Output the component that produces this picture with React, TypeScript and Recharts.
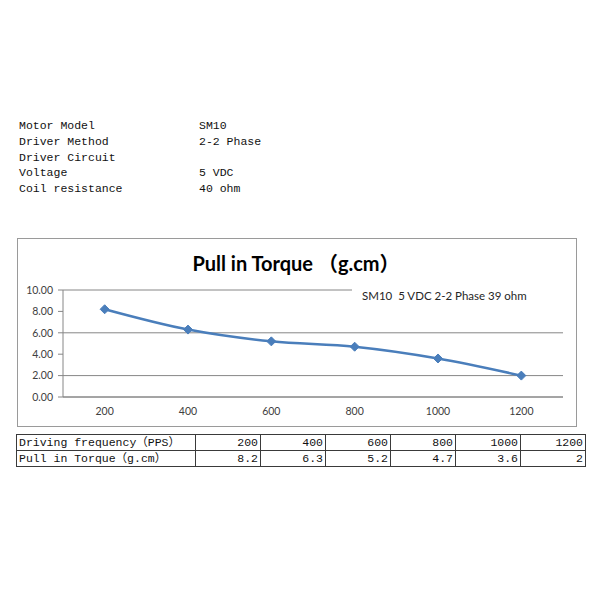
import React from "react";
import {
  LineChart,
  Line,
  XAxis,
  YAxis,
  CartesianGrid,
  Legend,
} from "recharts";

// values
const frequencies = [200, 400, 600, 800, 1000, 1200];
const torque = [8.2, 6.3, 5.2, 4.7, 3.6, 2];
const yTicks = [0, 2, 4, 6, 8, 10];
const minorXTicks = [100, 300, 500, 700, 900, 1100, 1300];
const seriesName = "SM10  5 VDC 2-2 Phase 39 ohm";

const specLabels = [
  "Motor Model",
  "Driver Method",
  "Driver Circuit",
  "Voltage",
  "Coil resistance",
];
const specValues = ["SM10", "2-2 Phase", "", "5 VDC", "40 ohm"];

const rowLabels = ["Driving frequency（PPS）", "Pull in Torque（g.cm）"];

const data = frequencies.map((f, i) => ({ freq: f, torque: torque[i] }));

const BLUE = "#4a7ebb";
const AXIS = "#868686";
const mono = "'Liberation Mono', 'Noto Sans CJK SC', monospace";
const sans = "Lato, 'Noto Sans CJK SC', sans-serif";

const Diamond = (props: any) => {
  const { cx, cy } = props;
  if (cx == null || cy == null) return null;
  const r = 4.5;
  return (
    <polygon
      points={`${cx},${cy - r} ${cx + r},${cy} ${cx},${cy + r} ${cx - r},${cy}`}
      fill={BLUE}
      stroke={BLUE}
    />
  );
};

const LegendBox = (props: any) => {
  const item = props.payload && props.payload[0];
  return (
    <div
      style={{
        background: "#fff",
        height: 26,
        lineHeight: "26px",
        paddingLeft: 10,
        fontFamily: sans,
        fontSize: 11.5,
        color: "#262626",
        whiteSpace: "pre",
      }}
    >
      {item ? item.value : ""}
    </div>
  );
};

const cell: React.CSSProperties = {
  border: "1px solid #3a3a3a",
  padding: "0 2px",
  height: 15,
  lineHeight: "15px",
  textAlign: "right",
  whiteSpace: "pre",
};

export default function App() {
  return (
    <div
      style={{
        position: "absolute",
        left: 0,
        top: 0,
        width: 600,
        height: 600,
        background: "#fff",
        overflow: "hidden",
      }}
    >
      {/* spec list */}
      <div
        style={{
          position: "absolute",
          left: 19,
          top: 118,
          fontFamily: mono,
          fontSize: 11.5,
          lineHeight: "15.75px",
          color: "#111",
          whiteSpace: "pre",
        }}
      >
        {specLabels.map((l, i) => (
          <div key={l} style={{ display: "flex" }}>
            <span style={{ width: 180, display: "inline-block" }}>{l}</span>
            <span>{specValues[i]}</span>
          </div>
        ))}
      </div>

      {/* chart frame */}
      <div
        style={{
          position: "absolute",
          left: 17,
          top: 238,
          width: 560,
          height: 189,
          border: "1px solid #9a9a9a",
          boxSizing: "border-box",
        }}
      >
        <div
          style={{
            position: "absolute",
            left: 0,
            width: 556,
            top: 9,
            textAlign: "center",
            fontFamily: sans,
            fontWeight: 700,
            fontSize: 20,
            color: "#000",
            whiteSpace: "pre",
          }}
        >
          Pull in Torque （g.cm）
        </div>
        <LineChart
          width={558}
          height={187}
          data={data}
          margin={{ top: 51, right: 13, bottom: 9, left: 5 }}
        >
          <CartesianGrid vertical={false} stroke={AXIS} />
          <XAxis
            xAxisId="minor"
            dataKey="freq"
            type="number"
            domain={[100, 1300]}
            ticks={minorXTicks}
            tick={false}
            axisLine={false}
            tickLine={{ stroke: AXIS }}
            tickSize={4}
            height={0}
          />
          <XAxis
            dataKey="freq"
            type="number"
            domain={[100, 1300]}
            ticks={frequencies}
            tickLine={false}
            axisLine={{ stroke: AXIS }}
            tick={{ fill: "#404040", fontSize: 10.5, fontFamily: sans }}
            tickMargin={5}
            height={20}
          />
          <YAxis
            domain={[0, 10]}
            ticks={yTicks}
            tickFormatter={(v: number) => v.toFixed(2)}
            axisLine={{ stroke: AXIS }}
            tickLine={{ stroke: AXIS }}
            tickSize={5}
            tickMargin={5}
            width={40}
            tick={{ fill: "#404040", fontSize: 10.5, fontFamily: sans }}
          />
          <Legend
            layout="horizontal"
            verticalAlign="middle"
            align="center"
            content={<LegendBox />}
            wrapperStyle={{ top: 44, left: 334, width: 212 }}
          />
          <Line
            name={seriesName}
            dataKey="torque"
            type="monotone"
            stroke={BLUE}
            strokeWidth={2.5}
            dot={<Diamond />}
            activeDot={false}
            isAnimationActive={false}
          />
        </LineChart>
      </div>

      {/* data table */}
      <table
        style={{
          position: "absolute",
          left: 16,
          top: 434,
          borderCollapse: "collapse",
          fontFamily: mono,
          fontSize: 11.5,
          color: "#111",
          tableLayout: "fixed",
          width: 569,
        }}
      >
        <colgroup>
          <col style={{ width: 179 }} />
          {frequencies.map((f) => (
            <col key={f} style={{ width: 65 }} />
          ))}
        </colgroup>
        <tbody>
          <tr>
            <td style={{ ...cell, textAlign: "left" }}>{rowLabels[0]}</td>
            {frequencies.map((f) => (
              <td key={f} style={cell}>
                {f}
              </td>
            ))}
          </tr>
          <tr>
            <td style={{ ...cell, textAlign: "left" }}>{rowLabels[1]}</td>
            {torque.map((t, i) => (
              <td key={i} style={cell}>
                {String(t)}
              </td>
            ))}
          </tr>
        </tbody>
      </table>
    </div>
  );
}
